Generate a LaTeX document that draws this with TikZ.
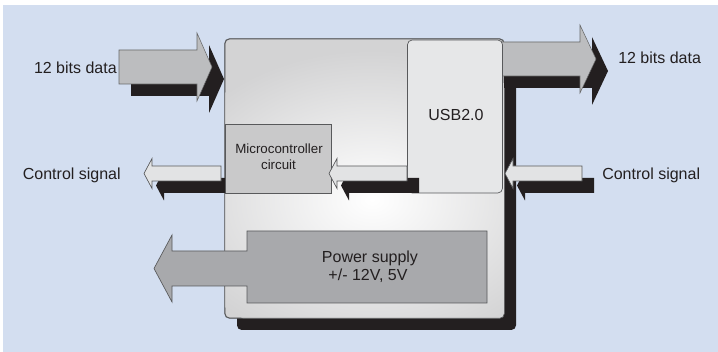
\documentclass[tikz,border=0pt]{standalone}
\usepackage{fontspec}
\setmainfont{Liberation Sans}
\definecolor{bgblue}{HTML}{D3DEF0}
\definecolor{shadowc}{HTML}{231F20}
\definecolor{arrowgray}{HTML}{BCBDBF}
\definecolor{boxgray}{HTML}{D3D3D4}
\definecolor{usbgray}{HTML}{E6E7E8}
\definecolor{microgray}{HTML}{C9C9CA}
\definecolor{powergray}{HTML}{A8A9AC}
\definecolor{ctrlfill}{HTML}{E2E3E4}
\definecolor{edgec}{HTML}{58595B}
\definecolor{textc}{HTML}{231F20}
\begin{document}
\begin{tikzpicture}[x=0.75pt,y=-0.75pt,
  outl/.style={draw=edgec,line width=0.5pt},
  shadowfill/.style={fill=shadowc},
  bigarrow/.style={fill=arrowgray,draw=arrowgray!55!black,line width=0.4pt},
  ctrlarrow/.style={fill=ctrlfill,draw=edgec,line width=0.5pt},
  lbl/.style={text=textc,font=\fontsize{12}{14}\selectfont,inner sep=0pt},
  smalllbl/.style={text=textc,font=\fontsize{10}{12}\selectfont,align=center,inner sep=0pt},
  mainbox/.style={rectangle,rounded corners=3.5pt,fill=boxgray,outl,minimum width=209.25pt,minimum height=209.25pt,inner sep=0pt},
  usbbox/.style={rectangle,rounded corners=3.5pt,fill=usbgray,outl,minimum width=71.25pt,minimum height=114.75pt,inner sep=0pt},
  microbox/.style={rectangle,fill=microgray,outl,minimum width=79.1pt,minimum height=51.75pt,inner sep=0pt}
]
\useasboundingbox (0,0) rectangle (718,352);
\fill[bgblue] (3,5) rectangle (718,352);

% main box shadow
\fill[shadowfill,rounded corners=3.5pt] (237,51) rectangle (516,330);
% main box
\node[mainbox] (main) at (364.5,178.5) {};
\begin{scope}
  \clip[rounded corners=3.5pt] (main.north west) rectangle (main.south east);
  \shade[inner color=white,outer color=boxgray] (372,200) ellipse (210 and 150);
\end{scope}
\draw[outl,rounded corners=3.5pt] (main.north west) rectangle (main.south east);

% output data arrow (shadow + arrow)
\fill[shadowfill] (504,54) -- (592,54) -- (592,37) -- (608,71) -- (592,105) -- (592,88) -- (504,88) -- cycle;
\draw[bigarrow] (501,42) -- (580,42) -- (580,25) -- (596,59) -- (580,93) -- (580,76) -- (501,76) -- cycle;

% USB box
\node[usbbox] (usb) at (455,116.5) {};
\node[lbl,anchor=base] (usbtxt) at (456,121) {USB2.0};

% left control arrow shadow
\fill[shadowfill] (156,185.5) -- (164,170.5) -- (164,178) -- (226,178) -- (226,193) -- (164,193) -- (164,200.5) -- cycle;

% microcontroller box
\node[microbox] (micro) at (278.25,158.5) {};
\node[smalllbl,anchor=base] (microtxt1) at (279,154) {Microcontroller};
\node[smalllbl,anchor=base] (microtxt2) at (278.5,170) {circuit};

% control arrows shadows
\fill[shadowfill] (341,185.5) -- (349,170.5) -- (349,178) -- (419,178) -- (419,193) -- (349,193) -- (349,200.5) -- cycle;
\fill[shadowfill] (517,185.5) -- (525,170.5) -- (525,178) -- (594,178) -- (594,193) -- (525,193) -- (525,200.5) -- cycle;

% control arrows
\draw[ctrlarrow] (144,173.5) -- (152,158.5) -- (152,166) -- (221,166) -- (221,181) -- (152,181) -- (152,188.5) -- cycle;
\draw[ctrlarrow] (329,173.5) -- (337,158.5) -- (337,166) -- (407,166) -- (407,181) -- (337,181) -- (337,188.5) -- cycle;
\draw[ctrlarrow] (505,173.5) -- (513,158.5) -- (513,166) -- (582,166) -- (582,181) -- (513,181) -- (513,188.5) -- cycle;

% power supply box + arrow
\draw[fill=powergray,draw=edgec,line width=0.5pt]
  (487,231) -- (247,231) -- (247,251) -- (172,251) -- (172,235) -- (154,268.5)
  -- (172,302) -- (172,286) -- (247,286) -- (247,303) -- (487,303) -- cycle;
\node[lbl,anchor=base] (powertxt1) at (370,263) {Power supply};
\node[lbl,anchor=base] (powertxt2) at (368,281) {+/- 12V, 5V};

% input data arrow (shadow + arrow)
\fill[shadowfill] (131,62) -- (209,62) -- (209,45) -- (224,79) -- (209,113) -- (209,96) -- (131,96) -- cycle;
\draw[bigarrow] (119,50) -- (197,50) -- (197,33) -- (212,67) -- (197,101) -- (197,84) -- (119,84) -- cycle;

% labels
\node[lbl,anchor=base east] (inlbl) at (117,74) {12 bits data};
\node[lbl,anchor=base west] (outlbl) at (618,64) {12 bits data};
\node[lbl,anchor=base east] (ctrlleft) at (121,179.5) {Control signal};
\node[lbl,anchor=base west] (ctrlright) at (602,180) {Control signal};
\end{tikzpicture}
\end{document}
